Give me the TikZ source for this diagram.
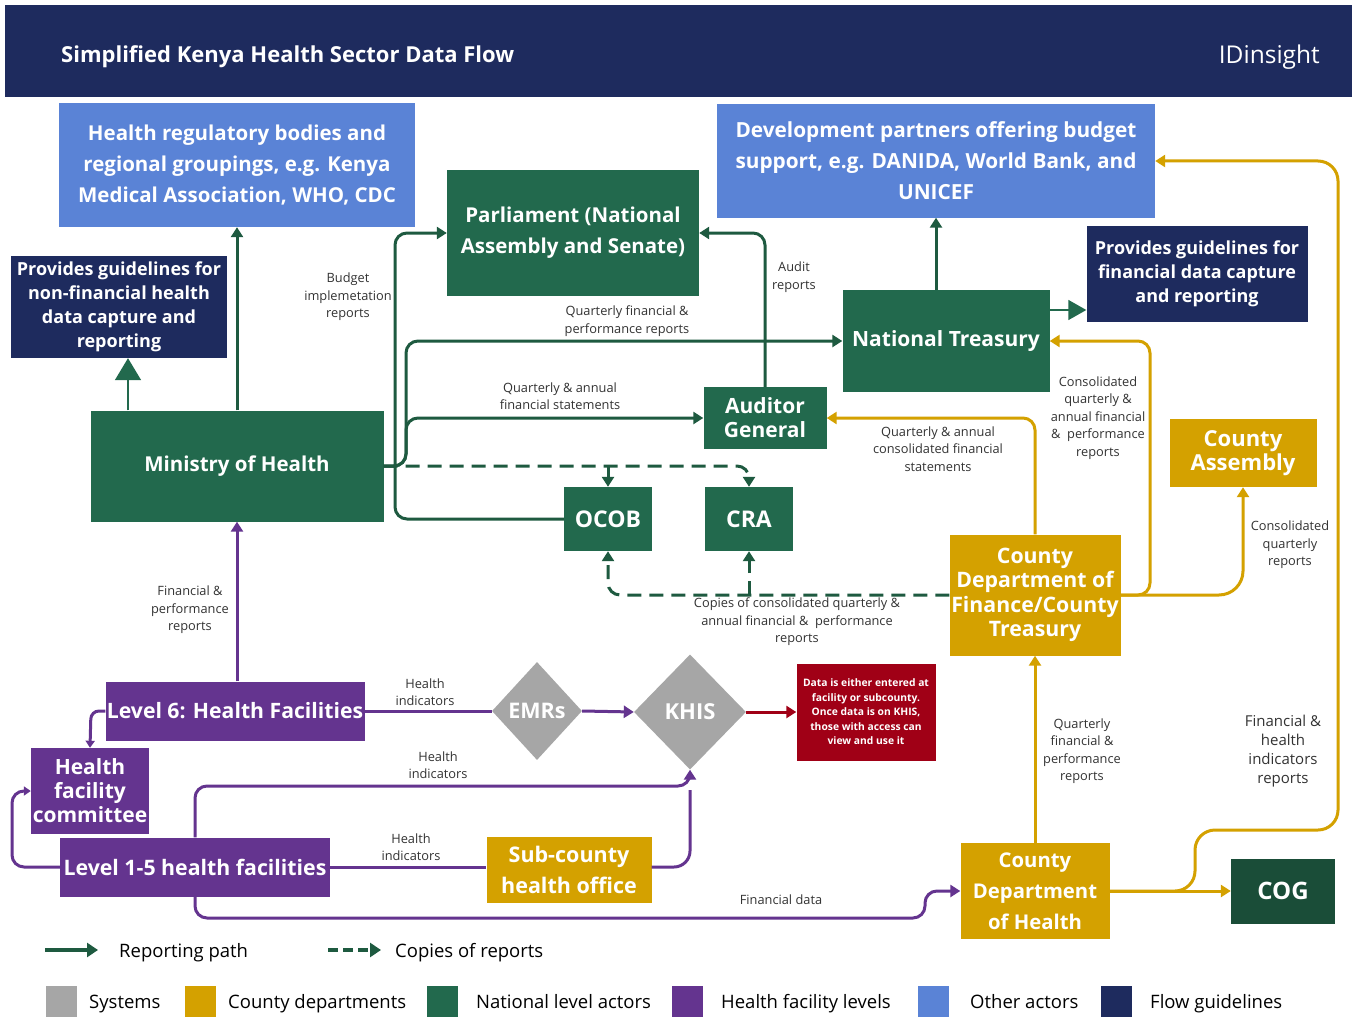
\documentclass[tikz,border=0pt]{standalone}
\usepackage{fontspec}
\setmainfont{Open Sans}
\usetikzlibrary{arrows.meta,shapes.geometric,calc}
\definecolor{navy}{HTML}{1E2B5E}
\definecolor{oblue}{HTML}{5A83D6}
\definecolor{ngreen}{HTML}{22694D}
\definecolor{lgreen}{HTML}{1E5A40}
\definecolor{cog}{HTML}{1A4D38}
\definecolor{purp}{HTML}{64348F}
\definecolor{gold}{HTML}{D4A100}
\definecolor{sysgray}{HTML}{A6A6A6}
\definecolor{dred}{HTML}{A00016}
\definecolor{lbl}{HTML}{333333}
\newcommand{\fsz}[2]{\fontsize{#1}{#2}\selectfont}
\tikzset{
  box/.style={draw=none, text=white, align=center, inner sep=1pt,
    font=\bfseries\fsz{20.5}{31}},
  gdbox/.style={box, font=\bfseries\fsz{18}{24}},
  tip/.style={-{Triangle[length=10pt,width=12pt]}},
  gline/.style={draw=lgreen, line width=3pt, rounded corners=12pt},
  pline/.style={draw=purp, line width=3pt, rounded corners=12pt},
  yline/.style={draw=gold, line width=3pt, rounded corners=12pt},
  dline/.style={draw=lgreen, line width=3pt, dash pattern=on 14pt off 8pt, rounded corners=12pt},
  lab/.style={text=lbl, align=center, inner sep=1pt, font=\fsz{12.8}{17.5}},
  dia/.style={diamond, fill=sysgray, text=white, inner sep=0pt, font=\bfseries\fsz{21.5}{24}},
  sq/.style={draw=none, minimum width=31pt, minimum height=31pt, inner sep=0pt},
  legt/.style={anchor=base west, inner sep=0pt, text=black, font=\fsz{18.5}{20}},
}
\begin{document}
\begin{tikzpicture}[x=1pt,y=-1pt]
\useasboundingbox (0,0) rectangle (1354,1019);
\fill[white] (0,0) rectangle (1354,1019);
% header
\fill[navy] (5,5) rectangle (1352,97);
\node[anchor=base west, inner sep=0pt, text=white, font=\bfseries\fsz{22}{25}] (title) at (61,63) {Simplified Kenya Health Sector Data Flow};
\node[anchor=base east, inner sep=0pt, text=white, font=\fsz{24.5}{26}] (brand) at (1320,64) {IDinsight};

% nodes
\node[box, fill=oblue, minimum width=356pt, minimum height=124pt] (hrb) at (237,165) {Health regulatory bodies and\\regional groupings, e.g. Kenya\\Medical Association, WHO, CDC};
\node[gdbox, fill=navy, minimum width=216pt, minimum height=102pt] (glL) at (119,307) {Provides guidelines for\\non-financial health\\data capture and\\reporting};
\node[box, fill=ngreen, minimum width=252pt, minimum height=125pt] (parl) at (573,233) {Parliament (National\\Assembly and Senate)};
\node[box, fill=oblue, minimum width=438pt, minimum height=113pt, font=\bfseries\fsz{20.8}{31}] (dev) at (936,161) {Development partners offering budget\\support, e.g. DANIDA, World Bank, and\\UNICEF};
\node[gdbox, fill=navy, minimum width=221pt, minimum height=96pt] (glR) at (1197,274) {Provides guidelines for\\financial data capture\\and reporting};
\node[box, fill=ngreen, minimum width=207pt, minimum height=102pt, font=\bfseries\fsz{21}{25}] (nt) at (946,341) {National Treasury};
\node[box, fill=ngreen, minimum width=123pt, minimum height=62pt, font=\bfseries\fsz{21}{24}] (ag) at (765,418) {Auditor\\General};
\node[box, fill=ngreen, minimum width=293pt, minimum height=111pt] (moh) at (237,466) {Ministry of Health};
\node[box, fill=ngreen, minimum width=88pt, minimum height=64pt, font=\bfseries\fsz{23}{25}] (ocob) at (608,519) {OCOB};
\node[box, fill=ngreen, minimum width=88pt, minimum height=64pt, font=\bfseries\fsz{23}{25}] (cra) at (749,519) {CRA};
\node[box, fill=gold, minimum width=147pt, minimum height=68pt, font=\bfseries\fsz{22}{24}] (ca) at (1243,453) {County\\Assembly};
\node[box, fill=gold, minimum width=171pt, minimum height=121pt, font=\bfseries\fsz{21.3}{24.5}] (cdf) at (1035,595) {County\\Department of\\Finance/County\\Treasury};
\node[box, fill=purp, minimum width=259pt, minimum height=59pt, font=\bfseries\fsz{21.2}{25}] (l6) at (235,711) {Level 6: Health Facilities};
\node[box, fill=purp, minimum width=118pt, minimum height=86pt, font=\bfseries\fsz{21}{24}] (hfc) at (90,791) {Health\\facility\\committee};
\node[dia, minimum width=90pt, minimum height=98pt] (emr) at (537,711) {EMRs};
\node[dia, minimum width=112pt, minimum height=115pt, font=\bfseries\fsz{22}{24}] (khis) at (690,712) {KHIS};
\node[box, fill=dred, minimum width=139pt, minimum height=97pt, font=\bfseries\fsz{10.3}{14.5}] (red) at (866,712) {Data is either entered at\\facility or subcounty.\\Once data is on KHIS,\\those with access can\\view and use it};
\node[box, fill=purp, minimum width=270pt, minimum height=59pt, font=\bfseries\fsz{21.3}{25}] (l15) at (195,867) {Level 1-5 health facilities};
\node[box, fill=gold, minimum width=165pt, minimum height=66pt, font=\bfseries\fsz{21.5}{31}] (sub) at (569,870) {Sub-county\\health office};
\node[box, fill=gold, minimum width=149pt, minimum height=96pt, font=\bfseries\fsz{20.3}{31}] (cdh) at (1035,891) {County\\Department\\of Health};
\node[box, fill=cog, minimum width=104pt, minimum height=65pt, font=\bfseries\fsz{24}{26}] (cog) at (1283,891) {COG};

% green connectors
\draw[gline, tip] (moh.north) -- (hrb.south);
\draw[draw=ngreen, line width=1.5pt, -{Triangle[length=22pt,width=26pt]}] ($(moh.north -| glL.south)+(9,0)$) -- ($(glL.south)+(9,0)$);
\draw[gline, tip] (nt.north -| dev.south) -- (dev.south);
\draw[draw=ngreen, line width=1.5pt, -{Triangle[length=18pt,width=20pt]}] (nt.east |- 0,310) -- (glR.west |- 0,310);
\draw[gline, tip] (ocob.west) -- (395,519) -- (395,233) -- (parl.west);
\draw[gline, tip] (moh.east |- 0,466) -- (406,466) -- (406,341) -- (nt.west);
\draw[gline, tip] (moh.east |- 0,466) -- (406,466) -- (406,418) -- (ag.west);
\draw[dline, tip] (moh.east |- 0,466) -- (749,466) -- (cra.north);
\draw[draw=lgreen, line width=3pt, tip] (608,466) -- (ocob.north);
\draw[gline, tip] (ag.north) -- (765,233) -- (parl.east);
\draw[dline, tip] (cdf.west |- 0,595) -- (608,595) -- (ocob.south);
\draw[dline, tip] (749,595) -- (cra.south);

% gold connectors
\draw[yline, tip] (cdf.north) -- (1035,418) -- (ag.east);
\draw[yline, tip] (cdf.east) -- (1150,595) -- (1150,341) -- (nt.east);
\draw[yline, rounded corners=24pt, tip] (cdf.east) -- (1243,595) -- (ca.south);
\draw[yline, tip] (cdh.north) -- (cdf.south);
\draw[yline, tip] (cdh.east) -- (cog.west);
\draw[yline, rounded corners=20pt, tip] (cdh.east) -- (1195,891) -- (1195,830) -- (1338,830) -- (1338,161) -- (dev.east);

% purple connectors
\draw[pline, tip] (moh.south |- l6.north) -- (moh.south);
\draw[pline, rounded corners=8pt, -{Triangle[length=7pt,width=9pt]}] (l6.west) -- (91,711) -- (hfc.north);
\draw[pline] (l6.east) -- (emr.west);
\draw[pline, tip] (emr.east) -- (khis.west);
\draw[draw=dred, line width=3pt, tip] (khis.east) -- (red.west);
\draw[pline, tip] (l15.north) -- (195,786) -- (690,786) -- (khis.south);
\draw[pline, rounded corners=16pt] (sub.east |- 0,867) -- (690,867) -- (690,790);
\draw[pline, -{Triangle[length=7pt,width=9pt]}] (l15.west) -- (12,867) -- (12,791) -- (hfc.west);
\draw[pline] (l15.east) -- (sub.west |- l15.east);
\draw[pline, tip] (l15.south) -- (195,918) -- (925,918) -- (925,891) -- (cdh.west);

% labels
\node[lab] (t1) at (348,297) {Budget\\implemetation\\reports};
\node[lab] (t2) at (627,321) {Quarterly financial \&\\performance reports};
\node[lab] (t3) at (560,396) {Quarterly \& annual\\financial statements};
\node[lab] (t4) at (794,277) {Audit\\reports};
\node[lab] (t5) at (938,449) {Quarterly \& annual\\consolidated financial\\statements};
\node[lab] (t6) at (1098,418) {Consolidated\\quarterly \&\\annual financial\\\& \ performance\\reports};
\node[lab] (t7) at (1290,545) {Consolidated\\quarterly\\reports};
\node[lab] (t8) at (797,622) {Copies of consolidated quarterly \&\\annual financial \& \ performance\\reports};
\node[lab] (t9) at (190,610) {Financial \&\\performance\\reports};
\node[lab] (t10) at (425,692) {Health\\indicators};
\node[lab] (t11) at (438,765) {Health\\indicators};
\node[lab] (t12) at (411,847) {Health\\indicators};
\node[lab] (t13) at (781,900) {Financial data};
\node[lab] (t14) at (1082,751) {Quarterly\\financial \&\\performance\\reports};
\node[lab, font=\fsz{15}{19}] (t15) at (1283,751) {Financial \&\\health\\indicators\\reports};

% legend
\coordinate (la1) at (45,950); \coordinate (la2) at (98,950);
\draw[draw=lgreen, line width=4pt, -{Triangle[length=11pt,width=14pt]}] (la1) -- (la2);
\node[legt] (lt1) at (119,957) {Reporting path};
\coordinate (lb1) at (328,950); \coordinate (lb2) at (381,950);
\draw[draw=lgreen, line width=4pt, dash pattern=on 10pt off 5pt, -{Triangle[length=11pt,width=14pt]}] (lb1) -- (lb2);
\node[legt] (lt2) at (395,957) {Copies of reports};
\node[sq, fill=sysgray] (s1) at (61,1001) {};
\node[legt] (st1) at (89,1008) {Systems};
\node[sq, fill=gold] (s2) at (200,1001) {};
\node[legt] (st2) at (228,1008) {County departments};
\node[sq, fill=ngreen] (s3) at (442,1001) {};
\node[legt] (st3) at (476,1008) {National level actors};
\node[sq, fill=purp] (s4) at (687,1001) {};
\node[legt] (st4) at (721,1008) {Health facility levels};
\node[sq, fill=oblue] (s5) at (933,1001) {};
\node[legt] (st5) at (970,1008) {Other actors};
\node[sq, fill=navy] (s6) at (1116,1001) {};
\node[legt] (st6) at (1150,1008) {Flow guidelines};
\end{tikzpicture}
\end{document}
